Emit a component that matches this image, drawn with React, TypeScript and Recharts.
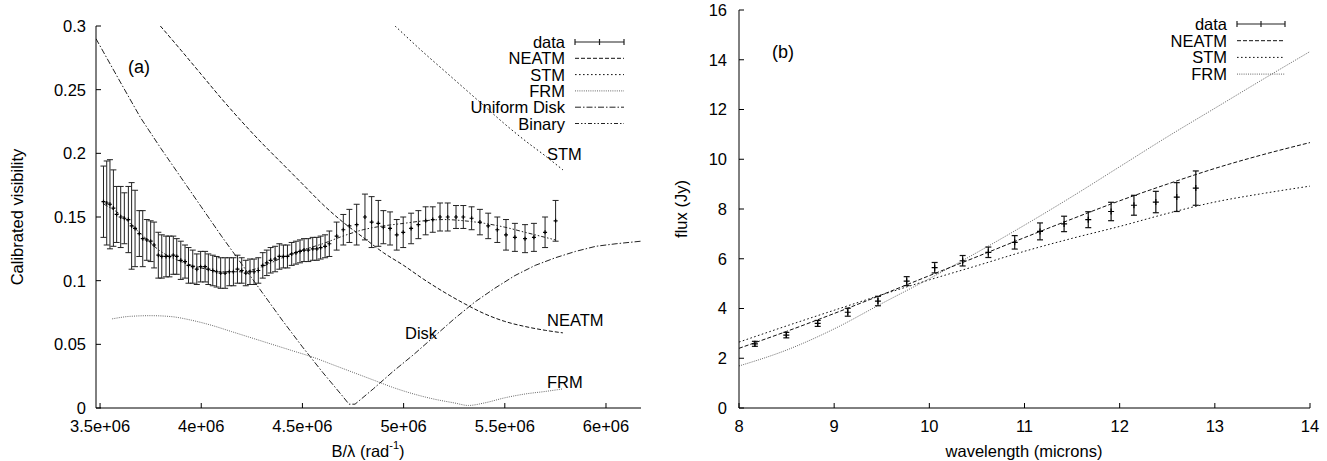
import React from 'react';
import { ComposedChart, Line, Scatter, XAxis, YAxis, ErrorBar, Label } from 'recharts';

const FONT = '"Liberation Sans", Arial, Helvetica, sans-serif';

// ---------- Panel (a): visibility vs B/lambda ----------
const visB = [3.517e6, 3.533e6, 3.549e6, 3.566e6, 3.582e6, 3.602e6, 3.620e6, 3.640e6, 3.656e6, 3.673e6, 3.694e6, 3.711e6, 3.731e6, 3.750e6, 3.767e6, 3.788e6, 3.805e6, 3.826e6, 3.843e6, 3.862e6, 3.879e6, 3.899e6, 3.920e6, 3.937e6, 3.958e6, 3.978e6, 3.997e6, 4.019e6, 4.035e6, 4.057e6, 4.076e6, 4.096e6, 4.118e6, 4.139e6, 4.159e6, 4.179e6, 4.200e6, 4.220e6, 4.241e6, 4.261e6, 4.282e6, 4.304e6, 4.324e6, 4.343e6, 4.365e6, 4.386e6, 4.406e6, 4.426e6, 4.447e6, 4.468e6, 4.488e6, 4.508e6, 4.529e6, 4.551e6, 4.571e6, 4.590e6, 4.612e6, 4.633e6, 4.669e6, 4.702e6, 4.732e6, 4.768e6, 4.809e6, 4.842e6, 4.875e6, 4.900e6, 4.933e6, 4.966e6, 4.998e6, 5.037e6, 5.073e6, 5.109e6, 5.144e6, 5.180e6, 5.218e6, 5.259e6, 5.295e6, 5.336e6, 5.377e6, 5.418e6, 5.463e6, 5.506e6, 5.550e6, 5.600e6, 5.644e6, 5.699e6, 5.751e6];
const visV = [0.162, 0.161, 0.160, 0.157, 0.152, 0.150, 0.149, 0.148, 0.143, 0.141, 0.137, 0.133, 0.132, 0.131, 0.128, 0.120, 0.119, 0.119, 0.119, 0.120, 0.119, 0.116, 0.115, 0.112, 0.111, 0.109, 0.111, 0.111, 0.109, 0.108, 0.107, 0.106, 0.106, 0.107, 0.107, 0.109, 0.108, 0.106, 0.107, 0.107, 0.108, 0.112, 0.114, 0.116, 0.117, 0.119, 0.119, 0.119, 0.121, 0.122, 0.123, 0.124, 0.124, 0.125, 0.125, 0.126, 0.127, 0.129, 0.135, 0.140, 0.143, 0.144, 0.150, 0.146, 0.145, 0.142, 0.141, 0.136, 0.138, 0.141, 0.144, 0.147, 0.148, 0.150, 0.150, 0.150, 0.150, 0.149, 0.146, 0.143, 0.140, 0.136, 0.134, 0.133, 0.134, 0.138, 0.147];
const visErr = [0.028, 0.033, 0.035, 0.030, 0.022, 0.024, 0.020, 0.026, 0.034, 0.030, 0.018, 0.022, 0.016, 0.016, 0.018, 0.018, 0.017, 0.016, 0.016, 0.015, 0.014, 0.015, 0.013, 0.014, 0.013, 0.012, 0.012, 0.012, 0.012, 0.012, 0.012, 0.012, 0.012, 0.011, 0.011, 0.011, 0.010, 0.010, 0.010, 0.010, 0.010, 0.010, 0.010, 0.010, 0.010, 0.010, 0.009, 0.009, 0.009, 0.009, 0.009, 0.009, 0.009, 0.009, 0.009, 0.009, 0.009, 0.010, 0.011, 0.012, 0.013, 0.016, 0.018, 0.020, 0.018, 0.013, 0.013, 0.012, 0.012, 0.012, 0.011, 0.011, 0.010, 0.011, 0.011, 0.009, 0.009, 0.009, 0.010, 0.010, 0.010, 0.012, 0.011, 0.011, 0.011, 0.012, 0.016];

const neatmAB = [3.798e6, 3.9e6, 4.0e6, 4.1e6, 4.2e6, 4.3e6, 4.4e6, 4.5e6, 4.6e6, 4.7e6, 4.8e6, 4.9e6, 5.0e6, 5.1e6, 5.2e6, 5.3e6, 5.4e6, 5.5e6, 5.6e6, 5.7e6, 5.787e6];
const neatmAV = [0.300, 0.281, 0.262, 0.243, 0.225, 0.208, 0.192, 0.176, 0.160, 0.146, 0.134, 0.122, 0.112, 0.101, 0.091, 0.082, 0.074, 0.068, 0.064, 0.061, 0.059];

const stmAB = [4.958e6, 5.1e6, 5.2e6, 5.3e6, 5.4e6, 5.5e6, 5.6e6, 5.7e6, 5.787e6];
const stmAV = [0.300, 0.279, 0.265, 0.251, 0.237, 0.223, 0.210, 0.198, 0.187];

const frmAB = [3.56e6, 3.65e6, 3.75e6, 3.85e6, 3.95e6, 4.05e6, 4.15e6, 4.25e6, 4.35e6, 4.45e6, 4.55e6, 4.65e6, 4.75e6, 4.85e6, 4.95e6, 5.05e6, 5.15e6, 5.25e6, 5.32e6, 5.4e6, 5.5e6, 5.6e6, 5.7e6, 5.787e6];
const frmAV = [0.070, 0.072, 0.0725, 0.0718, 0.069, 0.065, 0.060, 0.055, 0.050, 0.045, 0.040, 0.034, 0.028, 0.022, 0.016, 0.011, 0.007, 0.004, 0.002, 0.004, 0.008, 0.011, 0.013, 0.015];

const diskB = [3.48e6, 3.6e6, 3.7e6, 3.8e6, 3.9e6, 4.0e6, 4.1e6, 4.2e6, 4.3e6, 4.4e6, 4.5e6, 4.6e6, 4.7e6, 4.73e6, 4.76e6, 4.85e6, 4.95e6, 5.05e6, 5.15e6, 5.25e6, 5.35e6, 5.45e6, 5.55e6, 5.65e6, 5.75e6, 5.85e6, 5.95e6, 6.05e6, 6.173e6];
const diskV = [0.290, 0.256, 0.228, 0.204, 0.181, 0.158, 0.135, 0.113, 0.091, 0.069, 0.048, 0.028, 0.009, 0.003, 0.003, 0.015, 0.029, 0.042, 0.056, 0.070, 0.083, 0.094, 0.104, 0.112, 0.118, 0.123, 0.127, 0.129, 0.131];

const binB = [3.52e6, 3.6e6, 3.7e6, 3.8e6, 3.9e6, 4.0e6, 4.1e6, 4.2e6, 4.3e6, 4.4e6, 4.5e6, 4.6e6, 4.7e6, 4.8e6, 4.9e6, 5.0e6, 5.1e6, 5.2e6, 5.3e6, 5.4e6, 5.5e6, 5.6e6, 5.7e6, 5.75e6];
const binV = [0.160, 0.152, 0.137, 0.123, 0.115, 0.110, 0.107, 0.107, 0.111, 0.118, 0.124, 0.129, 0.135, 0.140, 0.143, 0.145, 0.147, 0.148, 0.147, 0.145, 0.142, 0.138, 0.134, 0.132];

const leftXTicks = [3.5e6, 4e6, 4.5e6, 5e6, 5.5e6, 6e6];
const leftXTickLabels = ['3.5e+06', '4e+06', '4.5e+06', '5e+06', '5.5e+06', '6e+06'];
const leftYTicks = [0, 0.05, 0.1, 0.15, 0.2, 0.25, 0.3];
const leftYTickLabels = ['0', '0.05', '0.1', '0.15', '0.2', '0.25', '0.3'];
const leftLegendNames = ['data', 'NEATM', 'STM', 'FRM', 'Uniform Disk', 'Binary'];

// ---------- Panel (b): flux vs wavelength ----------
const wl = [8.167, 8.497, 8.827, 9.143, 9.46, 9.762, 10.056, 10.35, 10.62, 10.897, 11.163, 11.416, 11.67, 11.91, 12.15, 12.38, 12.6, 12.8];
const flux = [2.58, 2.93, 3.40, 3.85, 4.30, 5.10, 5.64, 5.92, 6.26, 6.66, 7.10, 7.40, 7.57, 7.90, 8.15, 8.28, 8.48, 8.84];
const fluxErr = [0.10, 0.11, 0.12, 0.16, 0.19, 0.18, 0.21, 0.21, 0.21, 0.27, 0.34, 0.31, 0.32, 0.37, 0.40, 0.43, 0.58, 0.69];

const modelWl = [8.0, 8.5, 9.0, 9.5, 10.0, 10.5, 11.0, 11.5, 12.0, 12.5, 13.0, 13.5, 14.0];
const neatmBF = [2.40, 3.08, 3.80, 4.55, 5.32, 6.08, 6.85, 7.60, 8.33, 9.00, 9.63, 10.18, 10.67];
const stmBF = [2.65, 3.30, 3.93, 4.55, 5.15, 5.72, 6.30, 6.82, 7.30, 7.82, 8.28, 8.62, 8.92];
const frmBF = [1.69, 2.33, 3.18, 4.20, 5.20, 6.25, 7.35, 8.50, 9.70, 10.90, 12.05, 13.20, 14.33];

const rightXTicks = [8, 9, 10, 11, 12, 13, 14];
const rightYTicks = [0, 2, 4, 6, 8, 10, 12, 14, 16];
const rightLegendNames = ['data', 'NEATM', 'STM', 'FRM'];

const zip = (xs: number[], ys: number[]) => xs.map((x, i) => ({ x, y: ys[i] }));
const zipErr = (xs: number[], ys: number[], es: number[]) => xs.map((x, i) => ({ x, y: ys[i], err: es[i] }));

const visData = zipErr(visB, visV, visErr);
const fluxData = zipErr(wl, flux, fluxErr);

const FS = 16.5;
const tickStyle = { fill: '#000', fontSize: FS, fontFamily: FONT };
const AX = { stroke: '#000', strokeWidth: 1 };

const STY = {
  neatm: { stroke: '#111', dash: '4 2' },
  stm: { stroke: '#111', dash: '1.6 2.4' },
  frm: { stroke: '#666', dash: '1 1.2' },
  disk: { stroke: '#222', dash: '6 2 1.5 2' },
  bin: { stroke: '#222', dash: '4 2 1.5 2 1.5 2' },
};

const plusShape = (size: number) => (props: any) => {
  const { cx, cy } = props;
  if (cx == null || cy == null) return <g />;
  return <path d={`M${cx - size},${cy}h${2 * size}M${cx},${cy - size}v${2 * size}`} stroke="#000" strokeWidth={1.2} fill="none" />;
};

const txt = { fontFamily: FONT, fontSize: FS, fill: '#000' };

function LegendRow({ name, kind, xr, x0, x1, y }: { name: string; kind: string; xr: number; x0: number; x1: number; y: number }) {
  const style: any = (STY as any)[kind];
  return (
    <g>
      <text x={xr} y={y} textAnchor="end" dominantBaseline="central" {...txt}>{name}</text>
      {kind === 'data' ? (
        <g stroke="#222" strokeWidth={1.2}>
          <line x1={x0} y1={y} x2={x1} y2={y} />
          <line x1={x0} y1={y - 3} x2={x0} y2={y + 3} />
          <line x1={x1} y1={y - 3} x2={x1} y2={y + 3} />
          <line x1={(x0 + x1) / 2} y1={y - 3} x2={(x0 + x1) / 2} y2={y + 3} />
        </g>
      ) : (
        <line x1={x0} y1={y} x2={x1} y2={y} stroke={style.stroke} strokeDasharray={style.dash} strokeWidth={1} />
      )}
    </g>
  );
}

const legendKinds = ['data', 'neatm', 'stm', 'frm', 'disk', 'bin'];

export default function App() {
  return (
    <div style={{ position: 'absolute', left: 0, top: 0, width: 1327, height: 461, background: '#fff' }}>
      {/* Panel (a) */}
      <div style={{ position: 'absolute', left: 0, top: 0 }}>
        <ComposedChart width={660} height={461} margin={{ top: 26, right: 19, bottom: 0, left: 0 }}>
          <XAxis
            type="number"
            dataKey="x"
            domain={[3.48e6, 6.173e6]}
            allowDataOverflow
            ticks={leftXTicks}
            interval={0}
            tickFormatter={(v: number) => leftXTickLabels[leftXTicks.indexOf(v)] ?? String(v)}
            height={53}
            tickSize={-5}
            tickMargin={17}
            tick={tickStyle}
            axisLine={AX}
            tickLine={AX}
          >
            <Label
              content={() => (
                <text x={368} y={451} textAnchor="middle" dominantBaseline="central" {...txt}>
                  B/λ (rad<tspan dy={-6} fontSize={11}>-1</tspan>
                  <tspan dy={6}>)</tspan>
                </text>
              )}
            />
          </XAxis>
          <XAxis xAxisId="t" orientation="top" type="number" domain={[3.48e6, 6.173e6]} allowDataOverflow ticks={leftXTicks} interval={0} height={0} tickSize={-5} tick={false} axisLine={AX} tickLine={AX} />
          <YAxis
            type="number"
            dataKey="y"
            domain={[0, 0.3]}
            allowDataOverflow
            ticks={leftYTicks}
            interval={0}
            tickFormatter={(v: number) => leftYTickLabels[leftYTicks.indexOf(v)] ?? String(v)}
            width={96}
            tickSize={-5}
            tickMargin={15}
            tick={tickStyle}
            axisLine={AX}
            tickLine={AX}
          >
            <Label
              content={() => (
                <text x={17} y={217} transform="rotate(-90 17 217)" textAnchor="middle" dominantBaseline="central" {...txt}>
                  Calibrated visibility
                </text>
              )}
            />
          </YAxis>
          <YAxis yAxisId="r" orientation="right" type="number" domain={[0, 0.3]} allowDataOverflow ticks={leftYTicks} interval={0} width={0} tickSize={-5} tick={false} axisLine={AX} tickLine={AX} />

          <Line data={zip(diskB, diskV)} dataKey="y" type="linear" stroke={STY.disk.stroke} strokeDasharray={STY.disk.dash} strokeWidth={1} dot={false} isAnimationActive={false} />
          <Line data={zip(frmAB, frmAV)} dataKey="y" type="monotone" stroke={STY.frm.stroke} strokeDasharray={STY.frm.dash} strokeWidth={1} dot={false} isAnimationActive={false} />
          <Line data={zip(neatmAB, neatmAV)} dataKey="y" type="monotone" stroke={STY.neatm.stroke} strokeDasharray={STY.neatm.dash} strokeWidth={1} dot={false} isAnimationActive={false} />
          <Line data={zip(stmAB, stmAV)} dataKey="y" type="monotone" stroke={STY.stm.stroke} strokeDasharray={STY.stm.dash} strokeWidth={1} dot={false} isAnimationActive={false} />
          <Line data={zip(binB, binV)} dataKey="y" type="monotone" stroke={STY.bin.stroke} strokeDasharray={STY.bin.dash} strokeWidth={1} dot={false} isAnimationActive={false} />
          <Scatter data={visData} dataKey="y" shape={plusShape(2)} isAnimationActive={false}>
            <ErrorBar dataKey="err" direction="y" width={3} stroke="#222" strokeWidth={1} />
          </Scatter>
        </ComposedChart>
      </div>

      {/* Panel (b) */}
      <div style={{ position: 'absolute', left: 660, top: 0 }}>
        <ComposedChart width={667} height={461} margin={{ top: 10, right: 17, bottom: 0, left: 0 }}>
          <XAxis
            type="number"
            dataKey="x"
            domain={[8, 14]}
            allowDataOverflow
            ticks={rightXTicks}
            interval={0}
            height={53}
            tickSize={-5}
            tickMargin={17}
            tick={tickStyle}
            axisLine={AX}
            tickLine={AX}
          >
            <Label
              content={() => (
                <text x={364} y={451} textAnchor="middle" dominantBaseline="central" {...txt}>
                  wavelength (microns)
                </text>
              )}
            />
          </XAxis>
          <XAxis xAxisId="t" orientation="top" type="number" domain={[8, 14]} allowDataOverflow ticks={rightXTicks} interval={0} height={0} tickSize={-5} tick={false} axisLine={AX} tickLine={AX} />
          <YAxis
            type="number"
            dataKey="y"
            domain={[0, 16]}
            allowDataOverflow
            ticks={rightYTicks}
            interval={0}
            width={79}
            tickSize={-5}
            tickMargin={17}
            tick={tickStyle}
            axisLine={AX}
            tickLine={AX}
          >
            <Label
              content={() => (
                <text x={21} y={209} transform="rotate(-90 21 209)" textAnchor="middle" dominantBaseline="central" {...txt}>
                  flux (Jy)
                </text>
              )}
            />
          </YAxis>
          <YAxis yAxisId="r" orientation="right" type="number" domain={[0, 16]} allowDataOverflow ticks={rightYTicks} interval={0} width={0} tickSize={-5} tick={false} axisLine={AX} tickLine={AX} />

          <Line data={zip(modelWl, frmBF)} dataKey="y" type="monotone" stroke={STY.frm.stroke} strokeDasharray={STY.frm.dash} strokeWidth={1} dot={false} isAnimationActive={false} />
          <Line data={zip(modelWl, stmBF)} dataKey="y" type="monotone" stroke={STY.stm.stroke} strokeDasharray={STY.stm.dash} strokeWidth={1} dot={false} isAnimationActive={false} />
          <Line data={zip(modelWl, neatmBF)} dataKey="y" type="monotone" stroke={STY.neatm.stroke} strokeDasharray={STY.neatm.dash} strokeWidth={1} dot={false} isAnimationActive={false} />
          <Scatter data={fluxData} dataKey="y" shape={plusShape(3)} isAnimationActive={false}>
            <ErrorBar dataKey="err" direction="y" width={3} stroke="#111" strokeWidth={1.2} />
          </Scatter>
        </ComposedChart>
      </div>

      {/* Legends and annotations */}
      <svg width={1327} height={461} style={{ position: 'absolute', left: 0, top: 0, pointerEvents: 'none' }}>
        {leftLegendNames.map((n, i) => (
          <LegendRow key={n} name={n} kind={legendKinds[i]} xr={565} x0={575} x1={624} y={42 + i * 16.3} />
        ))}
        {rightLegendNames.map((n, i) => (
          <LegendRow key={n} name={n} kind={legendKinds[i]} xr={1227} x0={1237} x1={1285} y={24 + i * 16.7} />
        ))}
        <text x={139} y={67} textAnchor="middle" dominantBaseline="central" {...txt} fontSize={18}>(a)</text>
        <text x={783} y={52} textAnchor="middle" dominantBaseline="central" {...txt} fontSize={18}>(b)</text>
        <text x={547} y={154} dominantBaseline="central" {...txt}>STM</text>
        <text x={547} y={320} dominantBaseline="central" {...txt}>NEATM</text>
        <text x={547} y={382} dominantBaseline="central" {...txt}>FRM</text>
        <text x={405} y={333} dominantBaseline="central" {...txt}>Disk</text>
      </svg>
    </div>
  );
}
